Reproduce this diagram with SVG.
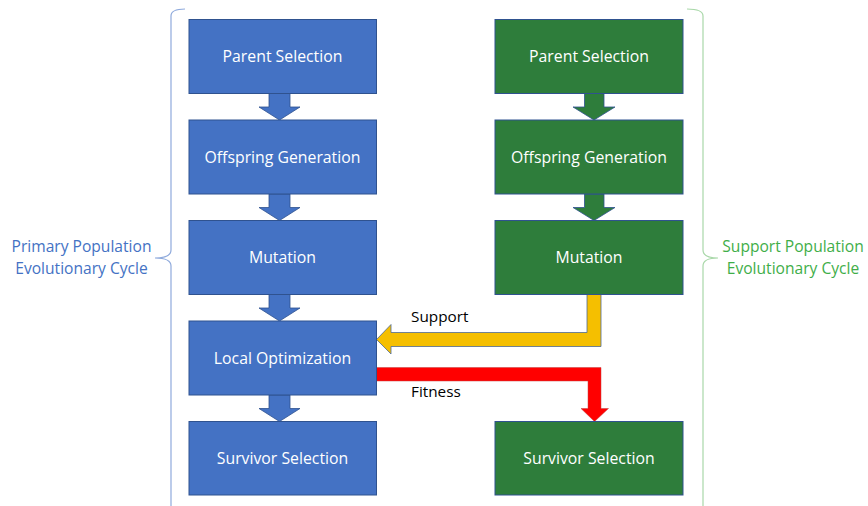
<svg xmlns="http://www.w3.org/2000/svg" width="868" height="506" viewBox="0 0 868 506">
<style>
.bx{fill:#4472C4;stroke:#2F528F;stroke-width:1}
.gx{fill:#2E7D3B;stroke:#2F528F;stroke-width:1}
.bt{font-family:"Open Sans","Liberation Sans",sans-serif;font-size:15.8px;fill:#FFFFFF;text-anchor:middle}
.ba{fill:#4472C4;stroke:#2F528F;stroke-width:0.8}
.ga{fill:#2E7D3B;stroke:#2F528F;stroke-width:0.8}
.lb{font-family:"Open Sans","Liberation Sans",sans-serif;font-size:15.3px;fill:#000000}
.side{font-family:"Open Sans","Liberation Sans",sans-serif;font-size:15.6px;text-anchor:middle}
</style>
<rect width="868" height="506" fill="#FFFFFF"/>
<g id="left-brace">
<path d="M185,9 Q171,9 171,16 L171,250 Q171,258 155,258 Q171,258 171,266 L171,506" fill="none" stroke="#8FAADC" stroke-width="1.2"/>
<text class="side" x="81.5" y="251.5" fill="#4472C4">Primary Population</text>
<text class="side" x="81.5" y="273.5" fill="#4472C4">Evolutionary Cycle</text>
</g>
<g id="right-brace">
<path d="M687,9 Q703,9 703,16 L703,250 Q703,258 718,258 Q703,258 703,266 L703,506" fill="none" stroke="#A9D8A9" stroke-width="1.2"/>
<text class="side" x="793" y="251.5" fill="#3FAE49">Support Population</text>
<text class="side" x="793" y="273.5" fill="#3FAE49">Evolutionary Cycle</text>
</g>
<g id="connectors">
<path class="ba" d="M269,93.5 L290,93.5 L290,107 L300,107 L279.5,120 L259,107 L269,107 Z"/>
<path class="ba" d="M269,194 L290,194 L290,207.5 L300,207.5 L279.5,220.5 L259,207.5 L269,207.5 Z"/>
<path class="ba" d="M269,294.5 L290,294.5 L290,308 L300,308 L279.5,321 L259,308 L269,308 Z"/>
<path class="ba" d="M269,395 L290,395 L290,408.5 L300,408.5 L279.5,421.5 L259,408.5 L269,408.5 Z"/>
<path class="ga" d="M584.5,93.5 L604,93.5 L604,107 L615,107 L594,120 L573,107 L584.5,107 Z"/>
<path class="ga" d="M584.5,194 L604,194 L604,207.5 L615,207.5 L594,220.5 L573,207.5 L584.5,207.5 Z"/>
<path d="M601,294.5 L601,346.5 L391,346.5 L391,354 L376.5,339.5 L391,324.5 L391,332.5 L587,332.5 L587,294.5 Z" fill="#F5BF00" stroke="#4E6A95" stroke-width="0.8"/>
<path d="M376.5,367.5 L601,367.5 L601,408.5 L608.5,408.5 L594.5,421.5 L581,408.5 L588,408.5 L588,381 L376.5,381 Z" fill="#FF0000" stroke="#C04040" stroke-width="0.5"/>
<text class="lb" x="411" y="322">Support</text>
<text class="lb" x="411" y="397">Fitness</text>
</g>
<g id="p-parent"><rect class="bx" x="189" y="19.5" width="187.5" height="74"/><text class="bt" x="282.5" y="62">Parent Selection</text></g>
<g id="p-offspring"><rect class="bx" x="189" y="120" width="187.5" height="74"/><text class="bt" x="282.5" y="162.5">Offspring Generation</text></g>
<g id="p-mutation"><rect class="bx" x="189" y="220.5" width="187.5" height="74"/><text class="bt" x="282.5" y="263">Mutation</text></g>
<g id="p-local"><rect class="bx" x="189" y="321" width="187.5" height="74"/><text class="bt" x="282.5" y="363.5">Local Optimization</text></g>
<g id="p-survivor"><rect class="bx" x="189" y="421.5" width="187.5" height="73.5"/><text class="bt" x="282.5" y="464">Survivor Selection</text></g>
<g id="s-parent"><rect class="gx" x="495" y="19.5" width="188" height="74"/><text class="bt" x="589" y="62">Parent Selection</text></g>
<g id="s-offspring"><rect class="gx" x="495" y="120" width="188" height="74"/><text class="bt" x="589" y="162.5">Offspring Generation</text></g>
<g id="s-mutation"><rect class="gx" x="495" y="220.5" width="188" height="74"/><text class="bt" x="589" y="263">Mutation</text></g>
<g id="s-survivor"><rect class="gx" x="495" y="421.5" width="188" height="73.5"/><text class="bt" x="589" y="464">Survivor Selection</text></g>
</svg>
